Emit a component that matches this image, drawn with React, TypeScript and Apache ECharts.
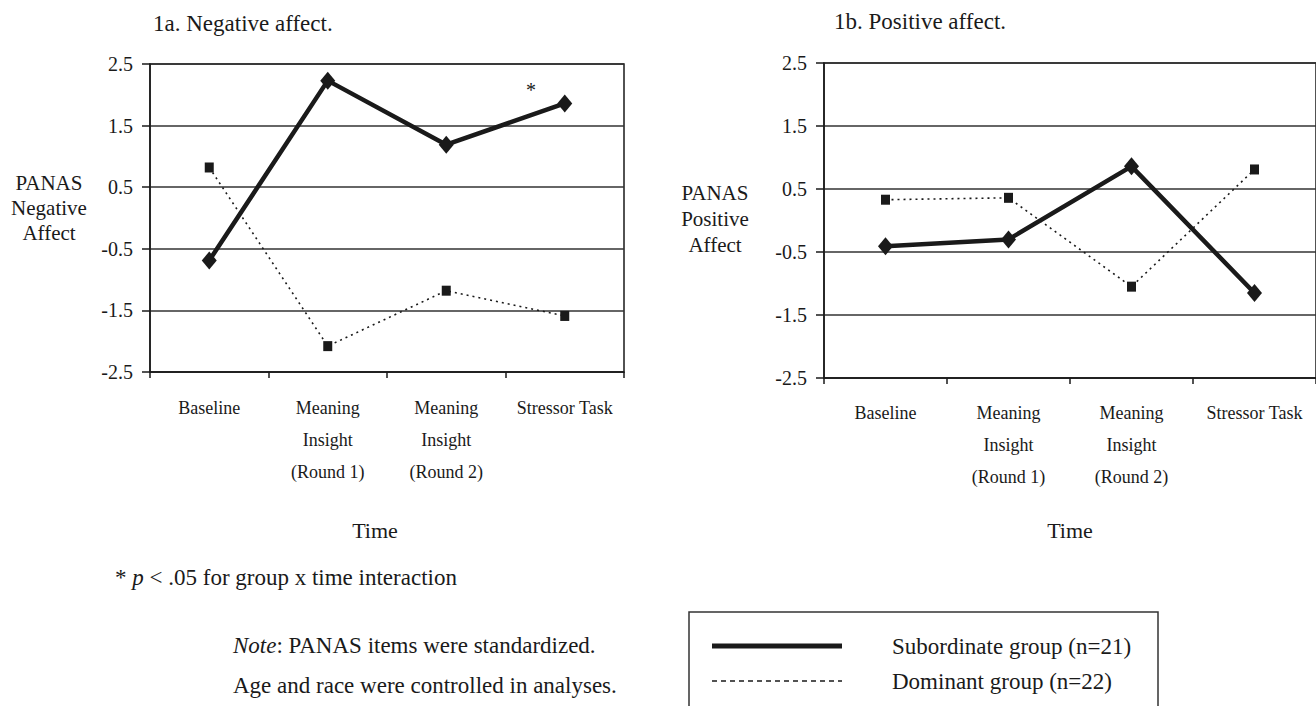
import React, { useEffect, useRef } from 'react';
import * as echarts from 'echarts';

const categories = ['Baseline', 'Meaning\nInsight\n(Round 1)', 'Meaning\nInsight\n(Round 2)', 'Stressor Task'];
const seriesNames = ['Subordinate group (n=21)', 'Dominant group (n=22)'];
const negSubordinate = [-0.69, 2.23, 1.19, 1.86];
const negDominant = [0.82, -2.08, -1.18, -1.59];
const posSubordinate = [-0.41, -0.3, 0.86, -1.15];
const posDominant = [0.33, 0.36, -1.05, 0.81];
const yMin = -2.5;
const yMax = 2.5;
const yStep = 1;
const panelTitles = ['1a. Negative affect.', '1b. Positive affect.'];
const yNameLines = [
  ['PANAS', 'Negative', 'Affect'],
  ['PANAS', 'Positive', 'Affect'],
];
const xName = 'Time';

const FAMILY = '"Liberation Serif", "Times New Roman", serif';
const INK = '#1a1a1a';

export default function App() {
  const ref = useRef<HTMLDivElement>(null);
  useEffect(() => {
    if (!ref.current) return;
    const chart = echarts.init(ref.current, undefined, { renderer: 'svg' });
    const grids = [
      { left: 150, top: 64, width: 474, height: 308 },
      { left: 824, top: 63, width: 502, height: 315 },
    ];
    const xAxis = grids.map((_, i) => ({
      type: 'category',
      gridIndex: i,
      data: categories,
      boundaryGap: true,
      axisLine: { show: true, onZero: false, lineStyle: { color: INK, width: 1.5 } },
      axisTick: { show: true, length: 6, lineStyle: { color: INK, width: 1.5 } },
      axisLabel: {
        interval: 0,
        fontSize: 18,
        lineHeight: 32,
        margin: i === 0 ? 20 : 19,
        color: INK,
        fontFamily: FAMILY,
      },
      splitLine: { show: false },
    }));
    const yAxis = grids.map((_, i) => ({
      type: 'value',
      gridIndex: i,
      min: yMin,
      max: yMax,
      interval: yStep,
      axisLine: { show: true, lineStyle: { color: INK, width: 1.5 } },
      axisTick: { show: true, length: 8, lineStyle: { color: INK, width: 1.5 } },
      axisLabel: {
        fontSize: 20,
        margin: 17,
        color: INK,
        fontFamily: FAMILY,
        formatter: (v: number) => v.toFixed(1),
      },
      splitLine: { show: true, lineStyle: { color: '#333', width: 1.5 } },
    }));
    const solid = (name: string, data: number[], idx: number) => ({
      name,
      type: 'line',
      xAxisIndex: idx,
      yAxisIndex: idx,
      data,
      symbol: 'diamond',
      symbolSize: [15, 18],
      lineStyle: { color: INK, width: 4.5 },
      itemStyle: { color: INK },
      z: 4,
    });
    const dotted = (name: string, data: number[], idx: number) => ({
      name,
      type: 'line',
      xAxisIndex: idx,
      yAxisIndex: idx,
      data,
      symbol: 'rect',
      symbolSize: [9, 10],
      lineStyle: { color: INK, width: 1.6, type: [2, 4] },
      itemStyle: { color: INK },
      z: 3,
    });
    const txt = (text: string, x: number, y: number, fontSize: number, extra: any = {}) => ({
      type: 'text',
      x,
      y,
      style: {
        text,
        font: `${fontSize}px ${FAMILY}`,
        fontSize,
        fontFamily: FAMILY,
        fill: INK,
        textAlign: 'left',
        textVerticalAlign: 'middle',
        ...extra,
      },
    });
    const italic = { i: { fontStyle: 'italic', fontSize: 23, fontFamily: FAMILY, fill: INK } };
    const nameTexts: any[] = [];
    yNameLines[0].forEach((line, k) => nameTexts.push(txt(line, 49, 183 + k * 25, 21, { textAlign: 'center' })));
    yNameLines[1].forEach((line, k) => nameTexts.push(txt(line, 715, 193 + k * 26, 21, { textAlign: 'center' })));
    chart.setOption({
      animation: false,
      backgroundColor: '#ffffff',
      title: [
        { text: panelTitles[0], left: 153, top: 12, padding: 0, textStyle: { fontSize: 23, fontWeight: 'normal', fontFamily: FAMILY, color: INK } },
        { text: panelTitles[1], left: 834, top: 10, padding: 0, textStyle: { fontSize: 23, fontWeight: 'normal', fontFamily: FAMILY, color: INK } },
      ],
      grid: grids.map((g) => ({ ...g, show: true, borderColor: INK, borderWidth: 1.5, backgroundColor: 'transparent' })),
      xAxis,
      yAxis,
      series: [
        dotted(seriesNames[1], negDominant, 0),
        solid(seriesNames[0], negSubordinate, 0),
        dotted(seriesNames[1], posDominant, 1),
        solid(seriesNames[0], posSubordinate, 1),
      ],
      graphic: [
        ...nameTexts,
        txt(xName, 375, 530, 22, { textAlign: 'center' }),
        txt(xName, 1070, 530, 22, { textAlign: 'center' }),
        txt('*', 531, 90, 20, { textAlign: 'center' }),
        txt('* {i|p} < .05 for group x time interaction', 115, 577, 23, { rich: italic }),
        txt('{i|Note}: PANAS items were standardized.', 233, 645, 23, { rich: italic }),
        txt('Age and race were controlled in analyses.', 233, 685, 23),
        {
          type: 'rect',
          shape: { x: 689, y: 612, width: 469, height: 130 },
          style: { fill: 'none', stroke: '#333', lineWidth: 1.5 },
        },
        {
          type: 'line',
          shape: { x1: 712, y1: 646, x2: 842, y2: 646 },
          style: { stroke: INK, lineWidth: 5 },
        },
        {
          type: 'line',
          shape: { x1: 712, y1: 681, x2: 842, y2: 681 },
          style: { stroke: INK, lineWidth: 1.5, lineDash: [5, 4] },
        },
        txt(seriesNames[0], 892, 646, 23),
        txt(seriesNames[1], 892, 681, 23),
      ],
    });
    return () => chart.dispose();
  }, []);
  return (
    <div
      ref={ref}
      style={{ position: 'absolute', left: 0, top: 0, width: 1316, height: 706 }}
    />
  );
}
